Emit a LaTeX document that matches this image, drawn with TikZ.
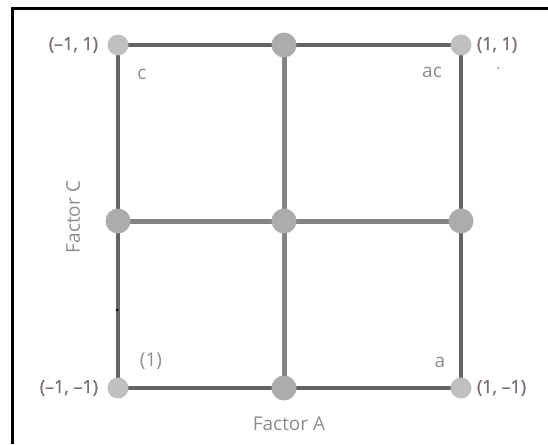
\documentclass[tikz,border=0pt]{standalone}
\usepackage{fontspec}
\setmainfont{Open Sans}
\newfontfamily\crdfont[FakeBold=1.2]{Open Sans}
\usetikzlibrary{positioning}
\definecolor{edgegray}{RGB}{100,100,100}
\definecolor{crossgray}{RGB}{132,132,132}
\definecolor{cornergray}{RGB}{192,192,195}
\definecolor{middot}{RGB}{172,172,175}
\definecolor{labelgray}{RGB}{140,140,140}
\definecolor{coordgray}{RGB}{125,112,116}

\begin{document}
\begin{tikzpicture}[x=1pt,y=-1pt,
    corner/.style={circle,fill=cornergray,minimum size=21pt,inner sep=0pt},
    midpt/.style={circle,fill=middot,minimum size=25pt,inner sep=0pt},
    lbl/.style={text=labelgray,font=\fontsize{19}{22}\selectfont,inner sep=0pt},
    crd/.style={text=coordgray,font=\fontsize{18}{21}\crdfont,inner sep=0pt},
    outer/.style={edgegray,line width=3.8pt},
    cross/.style={crossgray,line width=5pt}]
        \useasboundingbox (0,0) rectangle (548,444);
        % frame
        \draw[line width=3pt] (12,444) -- (12,8.5) -- (548.5,8.5);

        % Grid positions
        \coordinate (LT) at (118, 45);
        \coordinate (MT) at (284, 45);
        \coordinate (RT) at (461, 45);
        \coordinate (LM) at (118, 221);
        \coordinate (MM) at (284, 221);
        \coordinate (RM) at (461, 221);
        \coordinate (LB) at (118, 388);
        \coordinate (MB) at (284, 388);
        \coordinate (RB) at (461, 388);

        % --- Square and cross ---
        \draw[cross] (MT) -- (MB);
        \draw[cross] (LM) -- (RM);
        \draw[outer] (LT) -- (RT) -- (RB) -- (LB) -- cycle;

        \foreach \pt in {LT,RT,LB,RB}
            \node[corner] (d\pt) at (\pt) {};
        \foreach \pt in {MT,LM,MM,RM,MB}
            \node[midpt] (d\pt) at (\pt) {};

        % specks
        \fill (117,310) circle (1.3pt);
        \fill[gray] (498,68) circle (1pt);

        % --- Labels ---
        \node[crd, left=9pt of dLT] (cLT) {(–1, 1)};
        \node[crd, right=5pt of dRT] (cRT) {(1, 1)};
        \node[crd, left=9pt of dLB] (cLB) {(–1, –1)};
        \node[crd, right=5pt of dRB] (cRB) {(1, –1)};
        \node[lbl] (tc) at (142, 74) {c};
        \node[lbl] (tac) at (432, 72) {ac};
        \node[lbl] (tone) at (151, 361) {(1)};
        \node[lbl] (ta) at (440, 362) {a};
        \node[lbl, rotate=90] (fC) at (73, 217) {Factor C};
        \node[lbl] (fA) at (289, 424) {Factor A};
    \end{tikzpicture}
\end{document}
